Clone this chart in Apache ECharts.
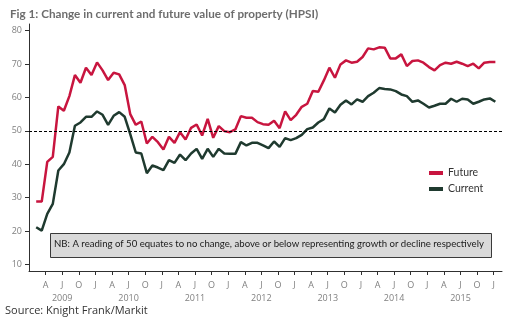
<!DOCTYPE html>
<html>
<head>
<meta charset="utf-8">
<script src="https://cdn.jsdelivr.net/npm/echarts@6/dist/echarts.min.js"></script>
<style>
html,body{margin:0;padding:0;background:#fff;}
#chart{width:519px;height:327px;}
</style>
</head>
<body>
<div id="chart"></div>
<script>
// Monthly data, Feb 2009 .. Jan 2016
const startYear = 2009;
const startMonthIndex = 1; // Feb 2009 (0 = Jan 2009)
const futureValues = [
  28.8, 28.8, 40.7, 42.2, 57.3, 56.0, 60.4, 66.7, 64.4, 68.9, 66.7,
  70.5, 68.1, 65.2, 67.4, 66.9, 63.7, 55.0, 51.8, 52.8, 46.2, 48.2, 46.6,
  44.4, 48.2, 46.4, 49.6, 47.4, 50.9, 51.9, 48.6, 53.6, 47.9, 51.4, 49.9,
  49.6, 50.4, 54.4, 53.9, 53.9, 52.6, 52.0, 51.8, 53.0, 50.8, 55.8, 53.2,
  54.8, 57.2, 58.1, 61.9, 61.7, 65.1, 68.9, 65.9, 69.9, 71.1, 70.4, 70.7,
  72.1, 74.7, 74.4, 75.0, 74.9, 71.7, 71.7, 72.9, 69.4, 70.9, 71.1, 70.4,
  69.1, 68.1, 69.7, 70.4, 70.1, 70.7, 70.1, 69.4, 70.1, 68.7, 70.4, 70.6,
  70.6
];
const currentValues = [
  21.1, 20.1, 25.1, 28.1, 38.1, 40.0, 43.5, 51.5, 52.5, 54.2, 54.2,
  55.8, 54.8, 51.8, 54.5, 55.6, 54.2, 49.0, 43.5, 43.2, 37.3, 39.6, 39.0,
  38.2, 41.2, 40.4, 42.9, 41.2, 43.2, 44.6, 41.6, 44.6, 42.2, 44.6, 43.2,
  43.1, 43.1, 46.6, 45.6, 46.4, 46.4, 45.6, 44.8, 46.8, 45.2, 47.8, 47.2,
  47.8, 48.8, 50.5, 51.0, 52.5, 53.5, 56.7, 55.5, 57.8, 59.1, 57.9, 59.4,
  58.7, 60.4, 61.4, 62.8, 62.5, 62.4, 61.9, 60.9, 60.4, 58.7, 59.1, 58.1,
  57.0, 57.5, 58.1, 58.1, 59.6, 58.7, 59.6, 59.4, 58.1, 58.7, 59.4, 59.7,
  58.7
];
const seriesNames = ['Future', 'Current'];
const quarterLetters = ['J', 'A', 'J', 'O']; // Jan, Apr, Jul, Oct
const yearLabels = [2009, 2010, 2011, 2012, 2013, 2014, 2015];
const xTickValues = [3,6,9,12,15,18,21,24,27,30,33,36,39,42,45,48,51,54,57,60,63,66,69,72,75,78,81,84];
const yTickValues = [10, 20, 30, 40, 50, 60, 70, 80];
const referenceLevel = 50;

const pointOffset = 0.3;
function toPairs(vals) {
  return vals.map((v, i) => [startMonthIndex + i + pointOffset, v]);
}

const chart = echarts.init(document.getElementById('chart'), null, {renderer: 'canvas'});
const axisFont = '"Open Sans", sans-serif';
chart.setOption({
  animation: false,
  backgroundColor: '#fff',
  title: {
    text: 'Fig 1: Change in current and future value of property (HPSI)',
    left: 5, top: 3,
    textStyle: {fontFamily: 'Lato, sans-serif', fontSize: 11.7, fontWeight: 'bold', color: '#6d6d6d'}
  },
  legend: {
    data: seriesNames,
    orient: 'vertical',
    left: 429, top: 166,
    itemWidth: 14, itemHeight: 4, itemGap: 2,
    icon: 'rect',
    padding: 0,
    textStyle: {fontFamily: 'Lato, sans-serif', fontSize: 10.5, color: '#333', lineHeight: 14}
  },
  grid: {left: 29, right: 17, top: 24, bottom: 56, containLabel: false},
  xAxis: {
    type: 'value', min: 0, max: 85.5,
    axisLine: {show: true, onZero: false, lineStyle: {color: '#303030', width: 1}},
    axisTick: {show: true, length: 4, customValues: xTickValues, lineStyle: {color: '#303030'}},
    splitLine: {show: false},
    axisLabel: {
      customValues: xTickValues,
      margin: 8,
      fontFamily: axisFont, fontSize: 9, color: '#808080', lineHeight: 13,
      formatter: function (v) {
        const m = v % 12;
        const letter = quarterLetters[m / 3];
        if (m === 6) return letter + '\n' + yearLabels[(v - 6) / 12];
        return letter;
      }
    }
  },
  yAxis: {
    type: 'value', min: 8, max: 82,
    axisLine: {show: true, lineStyle: {color: '#303030', width: 1}},
    axisTick: {show: true, length: 4, customValues: yTickValues, lineStyle: {color: '#303030'}},
    splitLine: {show: false},
    axisLabel: {customValues: yTickValues, margin: 7, fontFamily: axisFont, fontSize: 9, color: '#808080'}
  },
  series: [
    {
      name: seriesNames[0], type: 'line', data: toPairs(futureValues),
      showSymbol: false, symbol: 'none',
      lineStyle: {color: '#c8153f', width: 2.5}, itemStyle: {color: '#c8153f'},
      z: 3,
      markLine: {
        silent: true, symbol: 'none',
        label: {show: false},
        lineStyle: {color: '#000', type: [3, 2], width: 1},
        data: [{yAxis: referenceLevel}]
      }
    },
    {
      name: seriesNames[1], type: 'line', data: toPairs(currentValues),
      showSymbol: false, symbol: 'none',
      lineStyle: {color: '#1f3a2f', width: 2.5}, itemStyle: {color: '#1f3a2f'},
      z: 3
    }
  ],
  graphic: [
    {
      type: 'rect', left: 50, top: 233, z: 10,
      shape: {width: 441, height: 24},
      style: {fill: '#d9d9d9', stroke: '#3a3a3a', lineWidth: 1}
    },
    {
      type: 'text', left: 54, top: 239, z: 11,
      style: {text: 'NB: A reading of 50 equates to no change, above or below representing growth or decline respectively',
        font: '9.6px Lato, sans-serif', fill: '#1a1a1a'}
    },
    {
      type: 'text', left: 5, top: 305, z: 11,
      style: {text: 'Source: Knight Frank/Markit', font: '11px "Open Sans", sans-serif', fill: '#333'}
    }
  ]
});
</script>
</body>
</html>
